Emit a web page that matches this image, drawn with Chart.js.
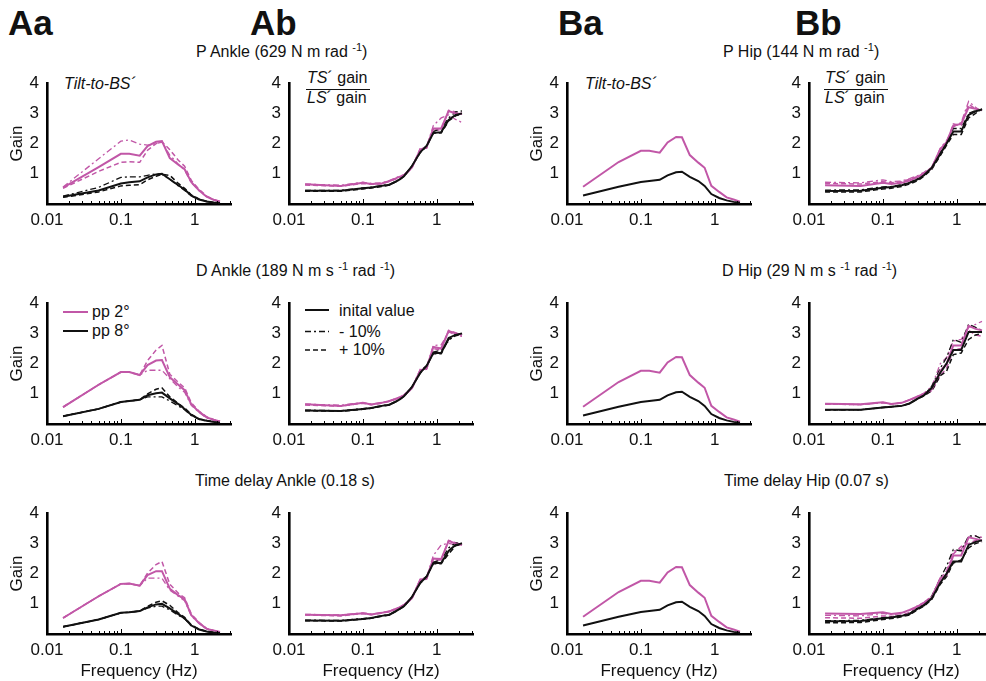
<!DOCTYPE html>
<html><head><meta charset="utf-8">
<script src="https://cdn.jsdelivr.net/npm/chart.js@4.4.0/dist/chart.umd.min.js"></script>
<style>
html,body{margin:0;padding:0;}
body{width:986px;height:681px;overflow:hidden;background:#fff;position:relative;font-family:"Liberation Sans",Arial,sans-serif;color:#111;}
canvas{position:absolute;}
.t{position:absolute;white-space:nowrap;line-height:1;font-size:16px;}
.big{font-weight:bold;font-size:35px;}
sup{font-size:11px;vertical-align:6px;line-height:0;}
.fl{position:absolute;height:1.5px;background:#111;}
svg{position:absolute;}
</style></head><body>
<div class="t big" style="left:8px;top:5px">Aa</div>
<div class="t big" style="left:250px;top:5px">Ab</div>
<div class="t big" style="left:558px;top:5px">Ba</div>
<div class="t big" style="left:795px;top:5px">Bb</div>

<div class="t" style="left:196px;top:44px">P Ankle (629 N m rad <sup>-1</sup>)</div>
<div class="t" style="left:723px;top:44px">P Hip (144 N m rad <sup>-1</sup>)</div>
<div class="t" style="left:196px;top:263px">D Ankle (189 N m s <sup>-1</sup> rad <sup>-1</sup>)</div>
<div class="t" style="left:722px;top:263px">D Hip (29 N m s <sup>-1</sup> rad <sup>-1</sup>)</div>
<div class="t" style="left:195px;top:473px">Time delay Ankle (0.18 s)</div>
<div class="t" style="left:724px;top:473px">Time delay Hip (0.07 s)</div>

<div class="t" style="left:64px;top:76px;font-style:italic">Tilt-to-BS´</div>
<div class="t" style="left:585px;top:76px;font-style:italic">Tilt-to-BS´</div>

<div class="t" style="left:307px;top:70px"><i>TS</i>´ gain</div>
<div class="fl" style="left:306px;top:88.5px;width:64px"></div>
<div class="t" style="left:307px;top:90px"><i>LS</i>´ gain</div>
<div class="t" style="left:825px;top:70px"><i>TS</i>´ gain</div>
<div class="fl" style="left:824px;top:88.5px;width:64px"></div>
<div class="t" style="left:825px;top:90px"><i>LS</i>´ gain</div>

<svg style="left:60px;top:300px" width="32" height="40">
  <line x1="3" y1="12" x2="28" y2="12" stroke="#c157a7" stroke-width="2"/>
  <line x1="3" y1="31" x2="28" y2="31" stroke="#111" stroke-width="2"/>
</svg>
<div class="t" style="left:92px;top:304px">pp 2°</div>
<div class="t" style="left:92px;top:323px">pp 8°</div>

<svg style="left:302px;top:300px" width="32" height="56">
  <line x1="3" y1="10" x2="27" y2="10" stroke="#111" stroke-width="2"/>
  <line x1="3" y1="31.5" x2="27" y2="31.5" stroke="#111" stroke-width="1.3" stroke-dasharray="6,3,2,3"/>
  <line x1="3" y1="50" x2="27" y2="50" stroke="#111" stroke-width="1.5" stroke-dasharray="5,3"/>
</svg>
<div class="t" style="left:339px;top:303px">inital value</div>
<div class="t" style="left:339px;top:324px">- 10%</div>
<div class="t" style="left:339px;top:342px">+ 10%</div>

<script>
// Frequencies (Hz)
const freq = [0.0165, 0.05, 0.1, 0.13, 0.18, 0.23, 0.3, 0.36, 0.46, 0.6, 0.73, 0.9, 1.15, 1.45, 1.8, 2.2];
const xTickValues = [0.01, 0.1, 1];
const yTickValues = [1, 2, 3, 4];

// Aa: Tilt-to-BS' gain, ankle parameters (P = pp 2°, K = pp 8°; m = -10 %, p = +10 %)
const aa1P  = [0.54, 1.22, 1.66, 1.66, 1.60, 1.92, 2.06, 2.08, 1.52, 1.30, 1.15, 0.72, 0.45, 0.24, 0.14, 0.08];
const aa1Pm = [0.56, 1.50, 2.08, 2.12, 1.98, 1.95, 2.00, 2.05, 1.62, 1.32, 1.12, 0.70, 0.44, 0.24, 0.14, 0.08];
const aa1Pp = [0.52, 1.08, 1.38, 1.40, 1.38, 1.78, 2.00, 2.06, 1.80, 1.45, 1.25, 0.78, 0.48, 0.26, 0.15, 0.08];
const aa1K  = [0.24, 0.45, 0.68, 0.72, 0.75, 0.88, 0.98, 1.00, 0.82, 0.62, 0.48, 0.28, 0.15, 0.08, 0.05, 0.03];
const aa1Km = [0.26, 0.55, 0.88, 0.90, 0.90, 0.95, 1.00, 0.98, 0.82, 0.60, 0.45, 0.27, 0.15, 0.08, 0.05, 0.03];
const aa1Kp = [0.22, 0.40, 0.60, 0.62, 0.64, 0.80, 0.92, 0.98, 0.95, 0.68, 0.52, 0.30, 0.16, 0.09, 0.05, 0.03];

const aa2P  = [0.56, 1.30, 1.72, 1.72, 1.62, 1.95, 2.10, 2.12, 1.55, 1.30, 1.12, 0.65, 0.40, 0.22, 0.14, 0.08];
const aa2Pm = [0.56, 1.30, 1.72, 1.72, 1.62, 1.78, 1.78, 1.78, 1.50, 1.22, 1.05, 0.62, 0.38, 0.20, 0.13, 0.07];
const aa2Pp = [0.56, 1.30, 1.72, 1.72, 1.62, 2.10, 2.45, 2.60, 1.65, 1.38, 1.20, 0.70, 0.42, 0.24, 0.15, 0.09];
const aa2K  = [0.26, 0.50, 0.73, 0.76, 0.80, 0.95, 1.02, 1.04, 0.85, 0.66, 0.50, 0.30, 0.16, 0.11, 0.07, 0.04];
const aa2Km = [0.26, 0.50, 0.73, 0.76, 0.80, 0.90, 0.90, 0.90, 0.76, 0.60, 0.47, 0.28, 0.15, 0.10, 0.07, 0.04];
const aa2Kp = [0.26, 0.50, 0.73, 0.76, 0.80, 1.00, 1.15, 1.20, 0.90, 0.68, 0.53, 0.32, 0.17, 0.12, 0.07, 0.04];

const aa3P  = [0.53, 1.25, 1.66, 1.67, 1.60, 1.95, 2.08, 2.08, 1.50, 1.28, 1.15, 0.62, 0.36, 0.17, 0.12, 0.07];
const aa3Pm = [0.53, 1.25, 1.66, 1.67, 1.60, 1.85, 1.85, 1.85, 1.45, 1.25, 1.10, 0.60, 0.35, 0.16, 0.11, 0.07];
const aa3Pp = [0.53, 1.25, 1.66, 1.67, 1.60, 2.02, 2.30, 2.40, 1.65, 1.35, 1.20, 0.66, 0.38, 0.18, 0.12, 0.07];
const aa3K  = [0.24, 0.48, 0.70, 0.72, 0.76, 0.88, 0.98, 1.00, 0.85, 0.66, 0.52, 0.28, 0.15, 0.08, 0.05, 0.03];
const aa3Km = [0.24, 0.48, 0.70, 0.72, 0.76, 0.86, 0.92, 0.92, 0.80, 0.62, 0.50, 0.27, 0.15, 0.08, 0.05, 0.03];
const aa3Kp = [0.24, 0.48, 0.70, 0.72, 0.76, 0.92, 1.05, 1.10, 0.95, 0.70, 0.55, 0.30, 0.16, 0.09, 0.05, 0.03];

// Ab: TS'/LS' gain ratio, ankle parameters
const ab1P  = [0.65, 0.60, 0.70, 0.66, 0.68, 0.76, 0.88, 0.95, 1.20, 1.80, 1.88, 2.50, 2.50, 3.08, 3.00, 2.98];
const ab1Pm = [0.66, 0.62, 0.72, 0.68, 0.70, 0.78, 0.90, 0.97, 1.22, 1.75, 1.90, 2.60, 2.85, 2.95, 2.80, 2.70];
const ab1Pp = [0.63, 0.59, 0.68, 0.65, 0.67, 0.75, 0.86, 0.94, 1.18, 1.85, 1.85, 2.45, 2.45, 3.10, 3.05, 3.00];
const ab1K  = [0.44, 0.44, 0.52, 0.55, 0.60, 0.64, 0.78, 0.92, 1.25, 1.72, 1.92, 2.35, 2.38, 2.78, 2.95, 3.00];
const ab1Km = [0.45, 0.45, 0.53, 0.56, 0.61, 0.65, 0.79, 0.93, 1.25, 1.70, 1.90, 2.40, 2.50, 2.85, 3.05, 3.08];
const ab1Kp = [0.42, 0.42, 0.50, 0.53, 0.58, 0.63, 0.77, 0.91, 1.24, 1.74, 1.93, 2.35, 2.35, 2.75, 2.92, 2.98];

const ab2P  = [0.65, 0.60, 0.70, 0.65, 0.70, 0.76, 0.86, 0.95, 1.18, 1.78, 1.85, 2.55, 2.50, 3.08, 3.00, 2.95];
const ab2Pm = [0.66, 0.62, 0.71, 0.66, 0.71, 0.77, 0.87, 0.96, 1.20, 1.82, 1.90, 2.60, 2.62, 3.05, 2.95, 2.90];
const ab2Pp = [0.63, 0.59, 0.69, 0.64, 0.69, 0.75, 0.85, 0.94, 1.16, 1.75, 1.82, 2.50, 2.45, 3.10, 3.02, 2.98];
const ab2K  = [0.45, 0.43, 0.50, 0.53, 0.60, 0.64, 0.78, 0.92, 1.22, 1.70, 1.92, 2.35, 2.35, 2.85, 2.95, 3.00];
const ab2Km = [0.46, 0.44, 0.51, 0.54, 0.61, 0.65, 0.79, 0.93, 1.22, 1.68, 1.90, 2.38, 2.45, 2.75, 2.98, 3.00];
const ab2Kp = [0.44, 0.42, 0.49, 0.52, 0.59, 0.63, 0.77, 0.91, 1.21, 1.72, 1.94, 2.33, 2.33, 2.80, 2.92, 2.98];

const ab3P  = [0.64, 0.62, 0.69, 0.65, 0.70, 0.75, 0.86, 0.96, 1.18, 1.80, 1.85, 2.50, 2.48, 3.08, 3.00, 2.95];
const ab3Pm = [0.65, 0.63, 0.70, 0.66, 0.71, 0.76, 0.87, 0.97, 1.20, 1.82, 1.88, 2.60, 2.95, 3.00, 2.95, 2.92];
const ab3Pp = [0.63, 0.60, 0.68, 0.64, 0.69, 0.74, 0.85, 0.95, 1.16, 1.76, 1.82, 2.45, 2.45, 3.10, 3.02, 2.98];
const ab3K  = [0.45, 0.44, 0.50, 0.53, 0.60, 0.64, 0.80, 0.92, 1.22, 1.70, 1.90, 2.35, 2.35, 2.75, 2.95, 3.00];
const ab3Km = [0.46, 0.45, 0.51, 0.54, 0.61, 0.65, 0.81, 0.93, 1.22, 1.68, 1.88, 2.38, 2.45, 2.85, 3.02, 3.00];
const ab3Kp = [0.44, 0.43, 0.49, 0.52, 0.59, 0.63, 0.79, 0.91, 1.21, 1.72, 1.92, 2.33, 2.33, 2.65, 2.92, 2.98];

// Ba: Tilt-to-BS' gain, hip parameters (variations overlap)
const ba1P = [0.57, 1.39, 1.76, 1.76, 1.70, 2.04, 2.22, 2.21, 1.62, 1.37, 1.20, 0.60, 0.40, 0.22, 0.15, 0.08];
const ba1K = [0.28, 0.57, 0.73, 0.76, 0.80, 0.95, 1.05, 1.07, 0.90, 0.76, 0.60, 0.33, 0.20, 0.12, 0.07, 0.04];
const ba2P = [0.57, 1.39, 1.76, 1.76, 1.70, 2.04, 2.22, 2.21, 1.62, 1.37, 1.20, 0.60, 0.40, 0.22, 0.15, 0.08];
const ba2K = [0.28, 0.57, 0.73, 0.76, 0.80, 0.95, 1.05, 1.07, 0.90, 0.76, 0.60, 0.33, 0.20, 0.12, 0.07, 0.04];
const ba3P = [0.57, 1.39, 1.76, 1.76, 1.70, 2.04, 2.22, 2.21, 1.62, 1.37, 1.20, 0.60, 0.40, 0.22, 0.15, 0.08];
const ba3K = [0.28, 0.57, 0.73, 0.76, 0.80, 0.95, 1.05, 1.07, 0.90, 0.76, 0.60, 0.33, 0.20, 0.12, 0.07, 0.04];

// Bb: TS'/LS' gain ratio, hip parameters
const bb1P  = [0.62, 0.60, 0.70, 0.66, 0.70, 0.78, 0.90, 1.00, 1.20, 1.82, 2.05, 2.60, 2.65, 3.20, 3.15, 3.10];
const bb1Pm = [0.72, 0.70, 0.80, 0.74, 0.76, 0.84, 0.95, 1.05, 1.22, 1.85, 2.10, 2.55, 2.70, 3.40, 3.20, 3.05];
const bb1Pp = [0.68, 0.66, 0.74, 0.70, 0.74, 0.82, 0.92, 1.02, 1.18, 1.80, 2.00, 2.65, 2.60, 3.30, 3.15, 3.10];
const bb1K  = [0.43, 0.44, 0.54, 0.56, 0.62, 0.70, 0.82, 0.95, 1.20, 1.66, 2.00, 2.40, 2.40, 2.95, 3.07, 3.13];
const bb1Km = [0.46, 0.47, 0.57, 0.58, 0.64, 0.72, 0.85, 0.98, 1.22, 1.70, 2.05, 2.50, 2.50, 3.00, 3.10, 3.10];
const bb1Kp = [0.40, 0.40, 0.50, 0.52, 0.58, 0.66, 0.78, 0.92, 1.15, 1.60, 1.95, 2.30, 2.30, 2.85, 3.00, 3.15];

const bb2P  = [0.67, 0.65, 0.72, 0.66, 0.70, 0.80, 0.92, 1.00, 1.15, 1.75, 2.00, 2.60, 2.60, 3.25, 3.15, 3.10];
const bb2Pm = [0.66, 0.64, 0.71, 0.66, 0.70, 0.80, 0.92, 1.02, 1.25, 2.00, 2.20, 2.75, 2.80, 3.20, 3.30, 3.40];
const bb2Pp = [0.66, 0.64, 0.71, 0.66, 0.70, 0.80, 0.90, 0.98, 1.10, 1.60, 1.85, 2.45, 2.50, 3.10, 2.95, 2.90];
const bb2K  = [0.47, 0.47, 0.55, 0.57, 0.60, 0.68, 0.85, 0.95, 1.20, 1.70, 2.00, 2.45, 2.45, 3.05, 3.05, 3.05];
const bb2Km = [0.47, 0.47, 0.55, 0.57, 0.60, 0.68, 0.85, 0.95, 1.25, 1.85, 2.20, 2.80, 2.70, 3.30, 3.20, 3.10];
const bb2Kp = [0.47, 0.47, 0.55, 0.57, 0.60, 0.68, 0.84, 0.93, 1.10, 1.60, 1.75, 2.30, 2.35, 2.80, 2.95, 3.00];

const bb3P  = [0.68, 0.66, 0.72, 0.66, 0.70, 0.80, 0.92, 1.02, 1.20, 1.85, 1.95, 2.60, 2.60, 3.20, 3.15, 3.10];
const bb3Pm = [0.62, 0.60, 0.68, 0.64, 0.68, 0.78, 0.95, 1.05, 1.25, 1.85, 2.10, 2.75, 2.80, 3.20, 3.25, 3.20];
const bb3Pp = [0.54, 0.52, 0.60, 0.58, 0.62, 0.72, 0.92, 1.05, 1.25, 1.80, 2.00, 2.65, 2.90, 3.00, 3.10, 3.10];
const bb3K  = [0.42, 0.43, 0.52, 0.55, 0.60, 0.66, 0.85, 0.95, 1.18, 1.70, 2.00, 2.40, 2.40, 2.95, 3.05, 3.10];
const bb3Km = [0.44, 0.45, 0.54, 0.56, 0.62, 0.68, 0.88, 0.98, 1.25, 1.85, 2.25, 2.80, 2.75, 3.25, 3.25, 3.15];
const bb3Kp = [0.37, 0.38, 0.48, 0.51, 0.57, 0.63, 0.82, 0.92, 1.15, 1.65, 1.90, 2.35, 2.45, 2.85, 3.00, 3.05];

const PINK = '#c157a7', BLACK = '#111111';
const FONT = '"Liberation Sans", Arial, sans-serif';
const colLeft = [47, 289, 567, 809];
const rowTop = [75, 295, 505];
const PLOT_W = 184, PLOT_H = 129, YW = 45, PAD_T = 10, PAD_R = 12;

const inTicks = {
  id: 'inTicks',
  afterDraw(chart) {
    const {ctx, chartArea: a, scales: {x}} = chart;
    ctx.save();
    ctx.strokeStyle = '#000';
    ctx.lineWidth = 1;
    for (let e = -2; e <= 0; e++) {
      for (let k = 1; k <= 9; k++) {
        const v = k * Math.pow(10, e);
        if (v > x.max) break;
        const px = Math.round(x.getPixelForValue(v)) + 0.5;
        const len = k === 1 ? 5 : 3;
        ctx.beginPath(); ctx.moveTo(px, a.bottom); ctx.lineTo(px, a.bottom - len); ctx.stroke();
      }
    }
    ctx.restore();
  }
};

function S(v, c, kind) {
  const st = {solid: {w: 2, d: []}, dashdot: {w: 1.3, d: [6, 3, 2, 3]}, dashed: {w: 1.5, d: [5, 3]}}[kind];
  return {
    data: freq.map((f, i) => ({x: f, y: v[i]})),
    borderColor: c, borderWidth: st.w, borderDash: st.d,
    pointRadius: 0, tension: 0, fill: false
  };
}
function six(P, Pm, Pp, K, Km, Kp) {
  return [S(K, BLACK, 'solid'), S(P, PINK, 'solid'),
          S(Km, BLACK, 'dashdot'), S(Kp, BLACK, 'dashed'),
          S(Pm, PINK, 'dashdot'), S(Pp, PINK, 'dashed')];
}

function panel(col, row, datasets, gainLabel) {
  const hx = row === 2 ? 48 : 30;
  const cv = document.createElement('canvas');
  const w = YW + PLOT_W + PAD_R, h = PAD_T + PLOT_H + hx;
  cv.width = w; cv.height = h;
  cv.style.left = (colLeft[col] - YW) + 'px';
  cv.style.top = (rowTop[row] - PAD_T) + 'px';
  cv.style.width = w + 'px'; cv.style.height = h + 'px';
  document.body.appendChild(cv);
  new Chart(cv, {
    type: 'line',
    data: {datasets},
    options: {
      responsive: false, animation: false, devicePixelRatio: 1,
      layout: {padding: {top: PAD_T, right: PAD_R, left: 0, bottom: 0}},
      plugins: {legend: {display: false}, tooltip: {enabled: false}},
      scales: {
        x: {
          type: 'logarithmic', min: 0.01, max: 3.1,
          afterBuildTicks: s => { s.ticks = xTickValues.map(v => ({value: v})); },
          afterFit: s => { s.height = hx; },
          grid: {display: false, drawTicks: false},
          border: {display: true, color: '#000', width: 2.6},
          ticks: {color: '#111', font: {size: 17, family: FONT}, padding: 6, autoSkip: false, maxRotation: 0,
                  callback: v => String(v)},
          title: {display: row === 2, text: 'Frequency (Hz)', color: '#111',
                  font: {size: 17, family: FONT}, padding: {top: 0, bottom: 0}}
        },
        y: {
          min: 0, max: 4,
          afterBuildTicks: s => { s.ticks = yTickValues.map(v => ({value: v})); },
          afterFit: s => { s.width = YW; },
          grid: {display: false, drawTicks: false},
          border: {display: true, color: '#000', width: 2.6},
          ticks: {color: '#111', font: {size: 17, family: FONT}, padding: 8, callback: v => String(v)},
          title: {display: !!gainLabel, text: 'Gain', color: '#111',
                  font: {size: 17, family: FONT}, padding: {top: 5, bottom: 0}}
        }
      }
    },
    plugins: [inTicks]
  });
}

panel(0, 0, six(aa1P, aa1Pm, aa1Pp, aa1K, aa1Km, aa1Kp), true);
panel(0, 1, six(aa2P, aa2Pm, aa2Pp, aa2K, aa2Km, aa2Kp), true);
panel(0, 2, six(aa3P, aa3Pm, aa3Pp, aa3K, aa3Km, aa3Kp), true);
panel(1, 0, six(ab1P, ab1Pm, ab1Pp, ab1K, ab1Km, ab1Kp), false);
panel(1, 1, six(ab2P, ab2Pm, ab2Pp, ab2K, ab2Km, ab2Kp), false);
panel(1, 2, six(ab3P, ab3Pm, ab3Pp, ab3K, ab3Km, ab3Kp), false);
panel(2, 0, [S(ba1K, BLACK, 'solid'), S(ba1P, PINK, 'solid')], true);
panel(2, 1, [S(ba2K, BLACK, 'solid'), S(ba2P, PINK, 'solid')], true);
panel(2, 2, [S(ba3K, BLACK, 'solid'), S(ba3P, PINK, 'solid')], true);
panel(3, 0, six(bb1P, bb1Pm, bb1Pp, bb1K, bb1Km, bb1Kp), false);
panel(3, 1, six(bb2P, bb2Pm, bb2Pp, bb2K, bb2Km, bb2Kp), false);
panel(3, 2, six(bb3P, bb3Pm, bb3Pp, bb3K, bb3Km, bb3Kp), false);
</script>
</body></html>
